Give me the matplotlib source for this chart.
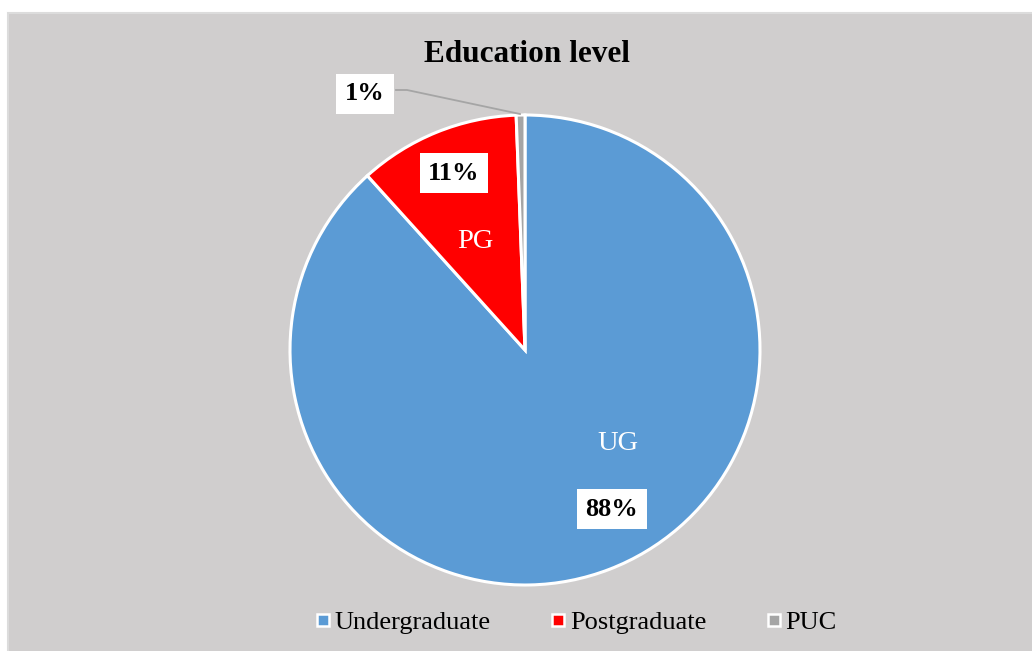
import matplotlib.pyplot as plt
from matplotlib.lines import Line2D
from matplotlib.patches import Rectangle

# Education level shares (percent of respondents)
categories = ["Undergraduate", "Postgraduate", "PUC"]
short_names = ["UG", "PG", ""]
shares = [88.3, 11.1, 0.6]
pct_labels = ["88%", "11%", "1%"]
colors = ["#5B9BD5", "#FF0000", "#A5A5A5"]

W, H = 1032, 651
plt.rcParams["font.family"] = ["Liberation Serif", "DejaVu Serif"]

fig = plt.figure(figsize=(W / 100, H / 100), dpi=100)
fig.patch.set_facecolor("white")
ax = fig.add_axes([0, 0, 1, 1])

# chart area background
ax.add_patch(Rectangle((8, -2), W - 6, H - 11, facecolor="#D0CECE",
                       edgecolor="#DCDCDC", lw=1.5, zorder=0))

ax.pie(
    shares,
    colors=colors,
    startangle=90,
    counterclock=False,
    center=(525, H - 350),
    radius=235,
    wedgeprops=dict(edgecolor="white", linewidth=2.2),
    frame=True,
)
ax.set_xlim(0, W)
ax.set_ylim(0, H)
ax.set_aspect("equal")
ax.axis("off")

ax.text(527, H - 55, "Education level", ha="center", va="center",
        fontsize=22.5, fontweight="bold")

# category names inside slices
ax.text(618, H - 443, short_names[0], ha="center", va="center",
        fontsize=20.5, color="white")
ax.text(475, H - 242, short_names[1], ha="center", va="center",
        fontsize=20.5, color="white")

# percentage boxes
box = dict(boxstyle="square,pad=0.33", facecolor="white", edgecolor="none")
pct_pos = [(612, 509), (454, 173), (365, 94)]
for (x, y), lab in zip(pct_pos, pct_labels):
    ax.text(x, H - y, lab, ha="center", va="center", fontsize=19,
            fontweight="bold", bbox=box)

# leader line for PUC
ax.plot([396, 407, 520], [H - 90, H - 90, H - 114], color="#A5A5A5", lw=1.3)

handles = [Line2D([], [], marker="s", linestyle="none", markersize=9,
                  markerfacecolor=c, markeredgecolor="white",
                  markeredgewidth=1.8) for c in colors]
ax.legend(handles, categories, loc="center",
          bbox_to_anchor=(576 / W, (H - 622) / H),
          ncol=3, frameon=False, fontsize=19, handlelength=0.6,
          handletextpad=0.15, columnspacing=2.25, borderaxespad=0)

fig.savefig("out.png", dpi=100)
